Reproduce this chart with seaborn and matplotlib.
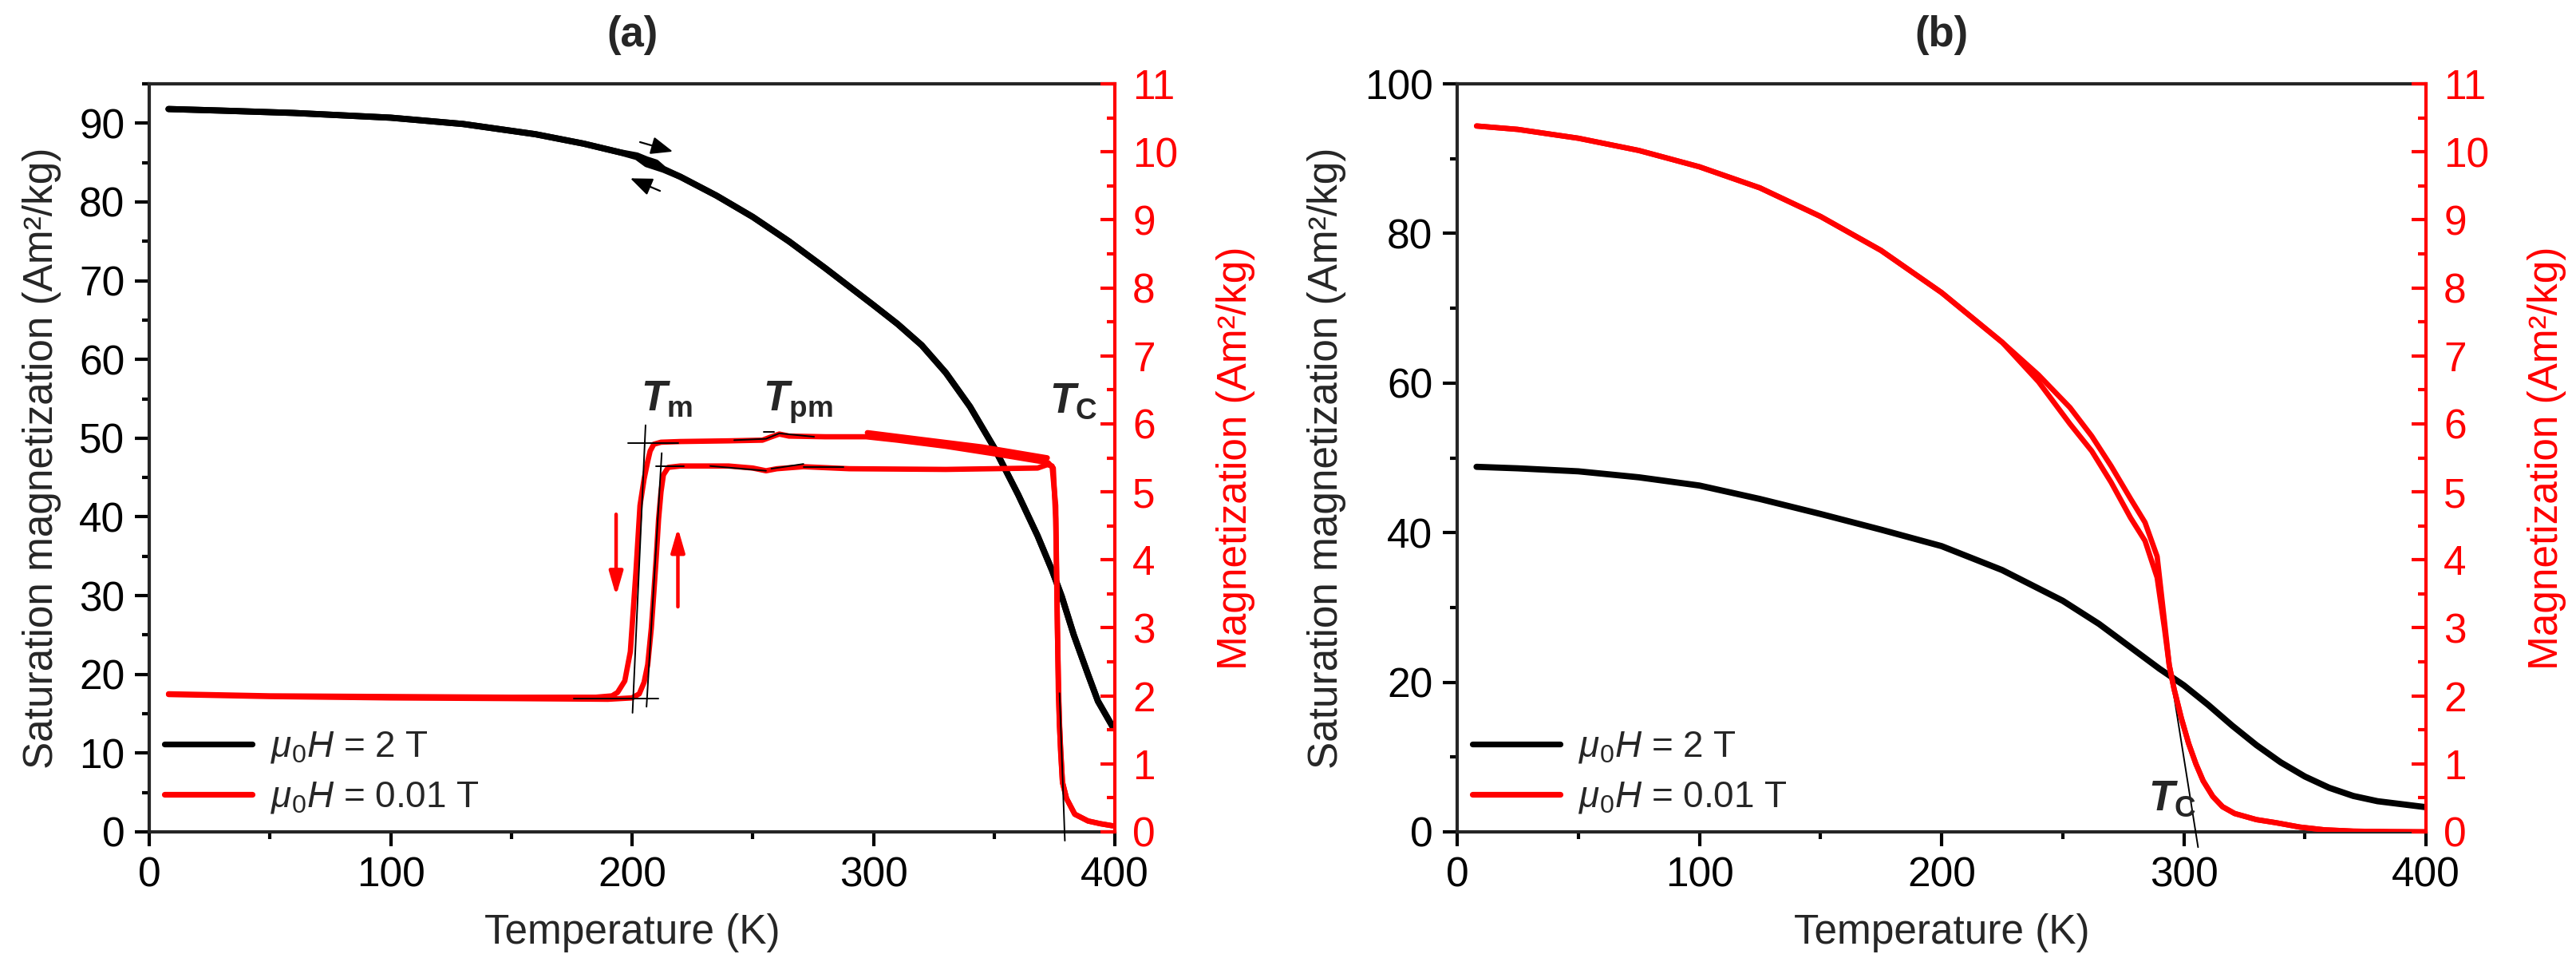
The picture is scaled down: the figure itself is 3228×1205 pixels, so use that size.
import matplotlib
matplotlib.use("Agg")
import matplotlib.pyplot as plt
from matplotlib.lines import Line2D
from matplotlib.ticker import MultipleLocator
import seaborn as sns

# ---------------- panel (a) ----------------
# mu0H = 2 T, left axis (Am2/kg)
a_blk_heat_T = [8, 30, 60, 100, 130, 160, 180, 195, 202, 206, 210, 213, 220, 235, 250,
                265, 280, 300, 310, 320, 330, 340, 350, 360, 368, 374, 378, 383, 389, 393, 399]
a_blk_heat_M = [91.8, 91.6, 91.3, 90.7, 89.9, 88.6, 87.4, 86.3, 85.9, 85.4, 85.0, 84.2, 83.2, 80.8, 78.1,
                75.0, 71.6, 66.9, 64.5, 61.8, 58.3, 54.0, 48.8, 42.8, 37.6, 33.2, 29.9, 25.0, 19.9, 16.6, 13.4]
a_blk_cool_T = [399, 393, 389, 383, 378, 374, 368, 360, 350, 340, 330, 320, 310, 300, 280,
                265, 250, 235, 220, 213, 210, 206, 202, 195, 180, 160, 130, 100, 60, 30, 8]
a_blk_cool_M = [13.4, 16.6, 19.9, 25.0, 29.9, 33.2, 37.6, 42.8, 48.8, 54.0, 58.3, 61.8, 64.5, 66.9, 71.6,
                75.0, 78.1, 80.8, 83.2, 84.1, 84.4, 84.8, 85.7, 86.3, 87.4, 88.6, 89.9, 90.7, 91.3, 91.6, 91.8]

# mu0H = 0.01 T, right axis (Am2/kg)
a_red_heat_T = [8, 50, 100, 150, 190, 200, 203, 205, 206.5, 208, 209, 210, 211, 212, 213, 215,
                220, 240, 250, 255.5, 260, 271, 290, 330, 368, 372, 374, 375.5, 376.6, 377.5,
                378.3, 380, 383.4, 388.9, 394, 399]
a_red_heat_m = [2.02, 1.99, 1.97, 1.96, 1.95, 1.97, 2.03, 2.2, 2.46, 3.0, 3.5, 4.02, 4.6, 5.0, 5.25, 5.36,
                5.38, 5.38, 5.35, 5.31, 5.34, 5.37, 5.34, 5.33, 5.35, 5.4, 5.38, 4.8, 2.06, 1.2,
                0.73, 0.49, 0.26, 0.16, 0.12, 0.09]
a_red_cool_T = [399, 394, 388.9, 383.4, 380, 378.3, 377, 376.2, 375.5, 374.5, 372.3, 350, 330, 310,
                297, 280, 265, 261, 257, 254, 240, 220, 212, 209, 207.5, 206.5, 205, 203.3, 201.6,
                199.3, 197, 194, 191.7, 185, 150, 100, 50, 8]
a_red_cool_m = [0.09, 0.12, 0.16, 0.26, 0.49, 0.73, 1.6, 3.0, 4.6, 5.35, 5.43, 5.56, 5.67, 5.76,
                5.81, 5.81, 5.82, 5.85, 5.8, 5.76, 5.75, 5.74, 5.73, 5.7, 5.6, 5.45, 5.19, 4.8, 3.82,
                2.65, 2.22, 2.05, 2.0, 1.98, 1.98, 1.99, 2.0, 2.03]
a_red_extra_T = [297.5, 320, 345, 372]
a_red_extra_m = [5.87, 5.77, 5.66, 5.5]

# tangent construction lines (right-axis units)
a_tan_lines = [
    ([176, 211], [1.96, 1.96]),
    ([200.2, 205.6], [1.75, 5.98]),
    ([198.2, 219.2], [5.72, 5.72]),
    ([206.0, 212.3], [1.84, 5.57]),
    ([209.8, 221.4], [5.38, 5.38]),
    ([242.3, 255.5, 261.0, 275.4], [5.76, 5.78, 5.86, 5.81]),
    ([254.4, 258.8], [5.88, 5.88]),
    ([232.4, 255.5], [5.38, 5.31]),
    ([257.7, 271.0], [5.34, 5.41]),
    ([271.0, 287.5], [5.36, 5.36]),
]
a_tc_line = ([377.1, 379.3], [2.04, -0.13])

# ---------------- panel (b) ----------------
b_blk_T = [8, 25, 50, 75, 100, 125, 150, 175, 200, 225, 250, 265, 280, 290, 300,
           310, 320, 330, 340, 350, 360, 370, 380, 390, 400]
b_blk_M = [48.8, 48.6, 48.2, 47.4, 46.3, 44.5, 42.5, 40.4, 38.2, 35.0, 30.9, 27.8, 24.2, 21.8, 19.6,
           17.0, 14.2, 11.6, 9.3, 7.4, 5.9, 4.8, 4.1, 3.7, 3.3]

b_red_T = [8, 25, 50, 75, 100, 125, 150, 175, 200, 225, 240, 253, 262, 270, 278, 284, 289,
           292, 294, 296, 299, 302, 305, 308, 312, 316, 321, 330, 338, 348, 358, 370, 385, 400]
b_red_up_m = [10.38, 10.33, 10.2, 10.02, 9.78, 9.47, 9.05, 8.55, 7.93, 7.2, 6.72, 6.24, 5.82, 5.38, 4.9,
              4.55, 4.05, 3.1, 2.45, 2.1, 1.67, 1.3, 1.0, 0.75, 0.52, 0.37, 0.27, 0.18, 0.135,
              0.07, 0.03, 0.01, 0.003, 0.0]
b_red_lo_m = [10.38, 10.33, 10.2, 10.02, 9.78, 9.47, 9.05, 8.55, 7.93, 7.2, 6.62, 6.0, 5.6, 5.14, 4.62,
              4.28, 3.74, 3.0, 2.45, 2.1, 1.67, 1.3, 1.0, 0.75, 0.52, 0.37, 0.27, 0.18, 0.135,
              0.07, 0.03, 0.01, 0.003, 0.0]
b_tc_line = ([290.6, 305.9], [29.1, -2.05])

legend_labels = [r"$\mu_\mathrm{0}H$ = 2 T", r"$\mu_\mathrm{0}H$ = 0.01 T"]

sns.set_theme(style="ticks")
plt.rcParams["font.family"] = ["Liberation Sans", "DejaVu Sans"]
plt.rcParams.update({
    "mathtext.fontset": "custom",
    "mathtext.rm": "Liberation Sans",
    "mathtext.it": "Liberation Sans:italic",
    "mathtext.bf": "Liberation Sans:bold",
    "mathtext.bfit": "Liberation Sans:italic:bold",
    "axes.linewidth": 1.5,
})

FS = 18.5
fig = plt.figure(figsize=(16.14, 6.025), dpi=200)
ax_a = fig.add_axes([0.05793, 0.13527, 0.37485, 0.77759])
ax_b = fig.add_axes([0.56568, 0.13527, 0.37608, 0.77759])


def line(ax, x, y, color, lw):
    sns.lineplot(x=x, y=y, ax=ax, color=color, lw=lw, sort=False, estimator=None, legend=False)


def style(ax, ax2, ylim, ymaj, ymin, title):
    ax.set_xlim(0, 400)
    ax.set_ylim(*ylim)
    ax.xaxis.set_major_locator(MultipleLocator(100))
    ax.xaxis.set_minor_locator(MultipleLocator(50))
    ax.yaxis.set_major_locator(MultipleLocator(ymaj))
    ax.yaxis.set_minor_locator(MultipleLocator(ymin))
    ax.tick_params(which="both", direction="out", width=1.5, labelsize=FS, pad=4.5,
                   top=False, right=False, colors="black")
    ax.tick_params(which="major", length=6.5)
    ax.tick_params(which="minor", length=3.3)
    ax.spines["right"].set_visible(False)
    ax.set_xlabel("Temperature (K)", fontsize=FS, labelpad=8)
    ax.set_ylabel("Saturation magnetization (Am²/kg)", fontsize=FS, labelpad=8)
    ax.set_title(title, fontsize=19, fontweight="bold", pad=17)

    ax2.set_ylim(0, 11)
    ax2.yaxis.set_major_locator(MultipleLocator(1))
    ax2.yaxis.set_minor_locator(MultipleLocator(0.5))
    ax2.tick_params(axis="y", which="both", direction="in", width=1.5, labelsize=FS,
                    pad=8, colors="red")
    ax2.tick_params(axis="y", which="major", length=6.5)
    ax2.tick_params(axis="y", which="minor", length=3.6)
    for s in ["top", "left", "bottom"]:
        ax2.spines[s].set_visible(False)
    ax2.spines["right"].set_color("red")
    ax2.spines["right"].set_linewidth(1.5)
    ax2.set_ylabel("Magnetization (Am²/kg)", fontsize=FS, color="red", labelpad=17)

    handles = [Line2D([], [], color="black", lw=2.6), Line2D([], [], color="red", lw=2.6)]
    ax2.legend(handles, legend_labels, loc="lower left", bbox_to_anchor=(0.016, 0.022),
               frameon=False, fontsize=16.5, handlelength=2.4, handletextpad=0.5,
               labelspacing=0.41, borderaxespad=0, borderpad=0)


# ---- panel (a) ----
ax_a2 = ax_a.twinx()
line(ax_a, a_blk_heat_T, a_blk_heat_M, "black", 2.8)
line(ax_a, a_blk_cool_T, a_blk_cool_M, "black", 2.8)
line(ax_a2, a_red_heat_T, a_red_heat_m, "red", 2.4)
line(ax_a2, a_red_cool_T, a_red_cool_m, "red", 2.4)
line(ax_a2, a_red_extra_T, a_red_extra_m, "red", 2.4)
for xs, ys in a_tan_lines:
    ax_a2.plot(xs, ys, color="black", lw=0.7, zorder=5)
ax_a2.plot(*a_tc_line, color="black", lw=0.7, zorder=5, clip_on=False)

# arrows
blk_arrow = dict(arrowstyle="-|>,head_length=0.42,head_width=0.17", color="black",
                 lw=0.8, mutation_scale=20, shrinkA=0, shrinkB=0)
ax_a.annotate("", xy=(216.9, 86.4), xytext=(203.3, 87.6), arrowprops=blk_arrow)
ax_a.annotate("", xy=(199.3, 83.0), xytext=(211.6, 81.4), arrowprops=blk_arrow)
red_arrow = dict(arrowstyle="-|>,head_length=0.45,head_width=0.13", color="red",
                 lw=1.6, mutation_scale=20, shrinkA=0, shrinkB=0)
ax_a2.annotate("", xy=(193.4, 3.47), xytext=(193.4, 4.67), arrowprops=red_arrow)
ax_a2.annotate("", xy=(219.0, 4.47), xytext=(219.0, 3.31), arrowprops=red_arrow)

ax_a2.text(203.6, 6.19, r"$\mathbfit{T}_\mathbf{m}$", fontsize=19, va="baseline")
ax_a2.text(254.2, 6.19, r"$\mathbfit{T}_\mathbf{pm}$", fontsize=19, va="baseline")
ax_a2.text(373.0, 6.17, r"$\mathbfit{T}_\mathbf{C}$", fontsize=19, va="baseline")

style(ax_a, ax_a2, (0, 95), 10, 5, "(a)")

# ---- panel (b) ----
ax_b2 = ax_b.twinx()
line(ax_b, b_blk_T, b_blk_M, "black", 2.8)
line(ax_b2, b_red_T, b_red_up_m, "red", 2.4)
line(ax_b2, b_red_T, b_red_lo_m, "red", 2.4)
ax_b.plot(*b_tc_line, color="black", lw=0.7, zorder=5, clip_on=False)
ax_b2.text(285.5, 2.9 * 11 / 100, r"$\mathbfit{T}_\mathbf{C}$", fontsize=19, va="baseline")

style(ax_b, ax_b2, (0, 100), 20, 10, "(b)")

fig.savefig("out.png", dpi=200)
